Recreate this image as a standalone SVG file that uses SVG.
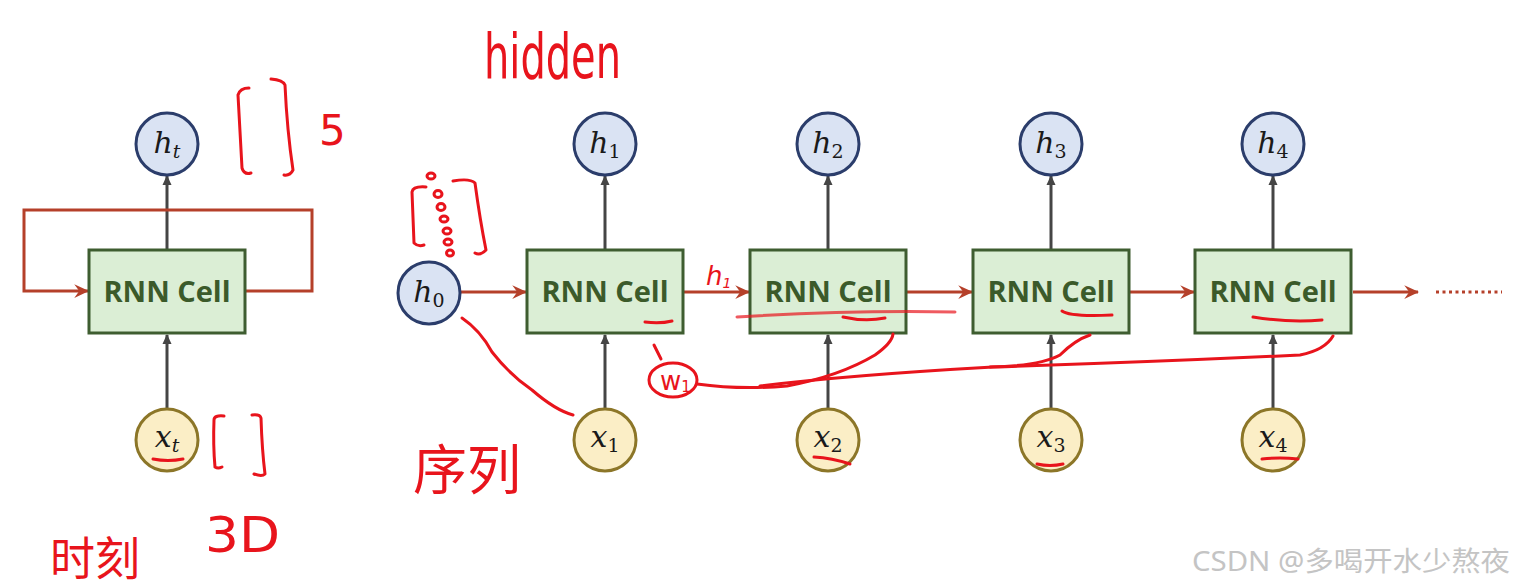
<svg xmlns="http://www.w3.org/2000/svg" width="1515" height="587" viewBox="0 0 1515 587">
<defs>
<marker id="ar" viewBox="0 0 12 12" refX="11" refY="6" markerWidth="15" markerHeight="15" markerUnits="userSpaceOnUse" orient="auto">
<path d="M0,0.5 L12,6 L0,11.5 L4,6 Z" fill="#b5402a"/>
</marker>
<marker id="ag" viewBox="0 0 10 10" refX="9" refY="5" markerWidth="10" markerHeight="10" markerUnits="userSpaceOnUse" orient="auto">
<path d="M0,0.5 L10,5 L0,9.5 Z" fill="#454545"/>
</marker>
<style>
.hc{fill:#dae3f3;stroke:#2b3d6b;stroke-width:3}
.xc{fill:#fbeec6;stroke:#8c7628;stroke-width:3}
.cell{fill:#dbeed5;stroke:#3e5d30;stroke-width:3}
.ct{font-family:"Open Sans","Liberation Sans",sans-serif;font-weight:bold;font-size:29px;fill:#3b5a2a;text-anchor:middle}
.m{font-family:"DejaVu Serif","Liberation Serif",serif;font-style:italic;font-size:30px;fill:#1a1a1a;text-anchor:middle}
.sub{font-size:19px;font-style:normal}
.subi{font-size:19px}
.red{fill:none;stroke:#b5402a;stroke-width:3}
.gr{fill:none;stroke:#454545;stroke-width:3}
.hw{fill:none;stroke:#e8141c;stroke-width:3;stroke-linecap:round;stroke-linejoin:round}
.hwt{fill:#e8141c;font-family:"DejaVu Sans","Noto Sans CJK SC",sans-serif}
.wm{font-family:"Noto Sans","Noto Sans CJK SC",sans-serif;font-size:27px;fill:#c4c4c4}
</style>
</defs>
<rect width="1515" height="587" fill="#ffffff"/>

<g id="connectors">
<line class="gr" x1="167" y1="249" x2="167" y2="176" marker-end="url(#ag)"/>
<line class="gr" x1="167" y1="409" x2="167" y2="335" marker-end="url(#ag)"/>
<path class="red" d="M246,291 H312 V210 H24 V291 H88" marker-end="url(#ar)"/>
<line class="red" x1="461" y1="292" x2="526" y2="292" marker-end="url(#ar)"/>
<line class="red" x1="684" y1="292" x2="749" y2="292" marker-end="url(#ar)"/>
<line class="red" x1="907" y1="292" x2="972" y2="292" marker-end="url(#ar)"/>
<line class="red" x1="1130" y1="292" x2="1194" y2="292" marker-end="url(#ar)"/>
<line class="red" x1="1353" y1="292" x2="1418" y2="292" marker-end="url(#ar)"/>
<line x1="1436" y1="292" x2="1502" y2="292" stroke="#b5402a" stroke-width="3" stroke-dasharray="3,3.5"/>
<line class="gr" x1="605" y1="249" x2="605" y2="176" marker-end="url(#ag)"/>
<line class="gr" x1="605" y1="409" x2="605" y2="335" marker-end="url(#ag)"/>
<line class="gr" x1="828" y1="249" x2="828" y2="176" marker-end="url(#ag)"/>
<line class="gr" x1="828" y1="409" x2="828" y2="335" marker-end="url(#ag)"/>
<line class="gr" x1="1051" y1="249" x2="1051" y2="176" marker-end="url(#ag)"/>
<line class="gr" x1="1051" y1="409" x2="1051" y2="335" marker-end="url(#ag)"/>
<line class="gr" x1="1273" y1="249" x2="1273" y2="176" marker-end="url(#ag)"/>
<line class="gr" x1="1273" y1="409" x2="1273" y2="335" marker-end="url(#ag)"/>
</g>

<g id="ht"><circle class="hc" cx="167" cy="144" r="31"/><text class="m" x="167" y="153">h<tspan class="subi" dy="5">t</tspan></text></g>
<g id="cell0"><rect class="cell" x="89" y="250" width="156" height="83"/><text class="ct" x="167" y="302">RNN Cell</text></g>
<g id="xt"><circle class="xc" cx="167" cy="440" r="31"/><text class="m" x="167" y="447">x<tspan class="subi" dy="5">t</tspan></text></g>

<g id="h0"><circle class="hc" cx="429" cy="293" r="31"/><text class="m" x="429" y="302">h<tspan class="sub" dy="5">0</tspan></text></g>

<g id="h1"><circle class="hc" cx="605" cy="144" r="31"/><text class="m" x="605" y="153">h<tspan class="sub" dy="5">1</tspan></text></g>
<g id="cell1"><rect class="cell" x="527" y="250" width="156" height="83"/><text class="ct" x="605" y="302">RNN Cell</text></g>
<g id="x1"><circle class="xc" cx="605" cy="440" r="31"/><text class="m" x="605" y="447">x<tspan class="sub" dy="5">1</tspan></text></g>

<g id="h2"><circle class="hc" cx="828" cy="144" r="31"/><text class="m" x="828" y="153">h<tspan class="sub" dy="5">2</tspan></text></g>
<g id="cell2"><rect class="cell" x="750" y="250" width="156" height="83"/><text class="ct" x="828" y="302">RNN Cell</text></g>
<g id="x2"><circle class="xc" cx="828" cy="440" r="31"/><text class="m" x="828" y="447">x<tspan class="sub" dy="5">2</tspan></text></g>

<g id="h3"><circle class="hc" cx="1051" cy="144" r="31"/><text class="m" x="1051" y="153">h<tspan class="sub" dy="5">3</tspan></text></g>
<g id="cell3"><rect class="cell" x="973" y="250" width="156" height="83"/><text class="ct" x="1051" y="302">RNN Cell</text></g>
<g id="x3"><circle class="xc" cx="1051" cy="440" r="31"/><text class="m" x="1051" y="447">x<tspan class="sub" dy="5">3</tspan></text></g>

<g id="h4"><circle class="hc" cx="1273" cy="144" r="31"/><text class="m" x="1273" y="153">h<tspan class="sub" dy="5">4</tspan></text></g>
<g id="cell4"><rect class="cell" x="1195" y="250" width="156" height="83"/><text class="ct" x="1273" y="302">RNN Cell</text></g>
<g id="x4"><circle class="xc" cx="1273" cy="440" r="31"/><text class="m" x="1273" y="447">x<tspan class="sub" dy="5">4</tspan></text></g>

<g id="annotations">
<text class="hwt" x="484" y="78" font-size="62" textLength="137" lengthAdjust="spacingAndGlyphs">hidden</text>
<text class="hwt" x="319" y="145" font-size="42">5</text>
<path class="hw" d="M249,88 Q240,88 238,95 Q240,130 242,168 Q244,175 251,173"/>
<path class="hw" d="M271,79 Q283,80 285,85 Q287,130 293,170 Q290,176 284,175"/>
<path class="hw" d="M224,416 Q214,415 214,420 Q213,445 215,467 Q218,469 222,467"/>
<path class="hw" d="M252,415 Q260,414 261,418 Q262,450 265,474 Q262,477 254,474"/>
<path class="hw" d="M426,187 Q413,186 412,192 Q413,220 414,243 Q418,247 424,245"/>
<path class="hw" d="M453,181 Q470,178 475,183 Q480,220 486,250 Q480,256 475,253"/>
<g class="hw" stroke-width="2">
<ellipse cx="431" cy="176" rx="4" ry="3"/>
<ellipse cx="438" cy="194" rx="4" ry="3.5"/>
<ellipse cx="441" cy="207" rx="4" ry="3.5"/>
<ellipse cx="444" cy="219" rx="4" ry="3"/>
<ellipse cx="447" cy="231" rx="4" ry="3"/>
<ellipse cx="448" cy="242" rx="4" ry="3"/>
<ellipse cx="450" cy="253" rx="3.5" ry="3"/>
</g>
<path class="hw" d="M462,318 Q480,330 492,352 Q510,375 532,390 Q555,410 573,415"/>
<text class="hwt" x="413" y="490" font-size="54" textLength="108" lengthAdjust="spacingAndGlyphs">序列</text>
<text class="hwt" x="50" y="575" font-size="46" textLength="90" lengthAdjust="spacingAndGlyphs">时刻</text>
<text class="hwt" x="205" y="552" font-size="50" textLength="75" lengthAdjust="spacingAndGlyphs">3D</text>
<text class="hwt" x="706" y="285" font-size="26" font-style="italic">h<tspan font-size="14" dy="3">1</tspan></text>
<path class="hw" d="M645,322 Q660,324 672,321"/>
<path class="hw" d="M843,317 Q865,322 885,318"/>
<path class="hw" d="M737,317 Q850,310 955,312" stroke-width="1" opacity="0.7"/>
<path class="hw" d="M1062,311 Q1070,317 1112,315"/>
<path class="hw" d="M1253,317 Q1290,323 1322,320"/>
<path class="hw" d="M153,459 Q168,462 183,459"/>
<path class="hw" d="M814,457 Q832,458 850,464"/>
<path class="hw" d="M1037,464 Q1050,467 1063,464"/>
<path class="hw" d="M1262,459 Q1280,457 1298,459"/>
<path class="hw" d="M654,345 L661,359"/>
<ellipse class="hw" cx="673" cy="380" rx="24" ry="17"/>
<text class="hwt" x="660" y="390" font-size="26">w<tspan font-size="15" dy="2">1</tspan></text>
<path class="hw" d="M697,384 Q740,390 787,386 Q840,376 875,355 Q892,343 893,334"/>
<path class="hw" d="M760,386 Q850,375 993,367 Q1150,362 1300,355 Q1325,350 1333,336"/>
<path class="hw" d="M990,367 Q1040,366 1060,355 Q1075,340 1090,335"/>
</g>

<text class="wm" x="1192" y="571" textLength="318" lengthAdjust="spacingAndGlyphs">CSDN @多喝开水少熬夜</text>
</svg>
